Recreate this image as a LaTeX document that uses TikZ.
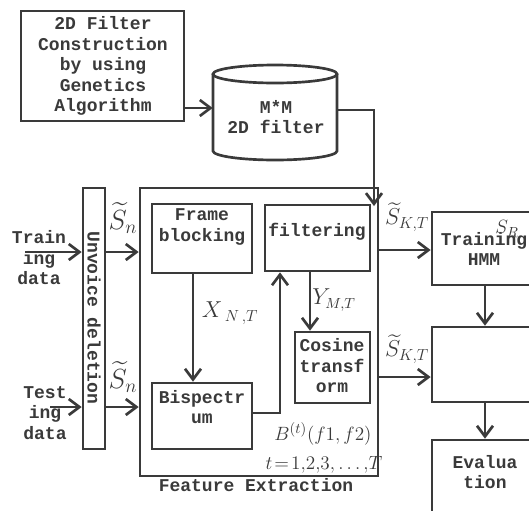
\documentclass[tikz,border=0pt]{standalone}
\usepackage{fontspec}
\usepackage{amsmath}
\usetikzlibrary{arrows.meta, fit}
\newfontfamily\boxfont{Liberation Mono}
\definecolor{ink}{HTML}{3A3A3A}

\begin{document}
\begin{tikzpicture}[x=0.75pt, y=-0.75pt,
  >={Straight Barb[length=8pt, width=12pt]},
  blk/.style={draw=ink, line width=2pt, inner sep=0pt},
  lbl/.style={text=ink, font=\boxfont\bfseries\fontsize{13.5}{15.4}\selectfont, align=center, inner sep=0pt},
  mth/.style={text=ink, font=\fontsize{16}{18}\selectfont, inner sep=0pt},
  arr/.style={draw=ink, line width=2pt, ->}]
  \useasboundingbox (0,0) rectangle (529,511);
  \fill[white] (0,0) rectangle (529,511);
  \clip (0,0) rectangle (529,511);

  % GA filter design and the stored filter
  \node[blk, fit={(21,11) (184,121)}] (flt) {};
  \node[lbl] (flttxt) at (103,66) {2D Filter\\Construction\\by using\\Genetics\\Algorithm};
  \draw[draw=ink, line width=2pt, fill=white] (213,74) -- (213,151)
    arc[start angle=180, end angle=360, x radius=46.5pt, y radius=6.75pt] -- (337,74);
  \draw[draw=ink, line width=2pt] (275,74) ellipse [x radius=46.5pt, y radius=6.75pt];
  \node[inner sep=0pt, fit={(213,65) (337,160)}] (db) {};
  \node[lbl] (dbtxt) at (276,117) {M*M\\2D filter};

  % pre-processing
  \node[blk, fit={(83,188) (105,449)}] (unv) {};
  \node[lbl, rotate=-90] (unvtxt) at (94,318) {Unvoice deletion};
  \node[lbl] (trntxt) at (39,258) {Train\\ing\\data};
  \node[lbl] (tsttxt) at (45,413) {Test\\ing\\data};

  % feature extraction
  \node[blk, fit={(140,188) (378,476)}] (fe) {};
  \node[lbl] (fetxt) at (256,485) {Feature Extraction};
  \node[blk, fit={(152,204) (252,273)}] (frame) {};
  \node[lbl] (frametxt) at (202,227) {Frame\\blocking};
  \node[blk, fit={(265,205) (370,271)}] (filt) {};
  \node[lbl] (filttxt) at (317,232) {filtering};
  \node[blk, fit={(152,383) (252,449)}] (bisp) {};
  \node[lbl] (bisptxt) at (202,407) {Bispectr\\um};
  \node[blk, fit={(295,332) (370,403)}] (cos) {};
  \node[lbl] (costxt) at (332,366) {Cosine\\transf\\orm};

  % HMM side
  \node[blk, fit={(432,212) (540,285)}] (train) {};
  \node[lbl] (traintxt) at (484,249) {Training\\HMM};
  \node[mth, font=\fontsize{15}{17}\selectfont] (srtxt) at (507,229) {$S_{R}$};
  \node[blk, fit={(432,327) (540,402)}] (recog) {};
  \node[blk, fit={(432,440) (540,530)}] (eval) {};
  \node[lbl] (evaltxt) at (485,472) {Evalua\\tion};

  % connector ends and columns
  \coordinate (trn) at (25,252);
  \coordinate (tst) at (50,407);
  \coordinate (fein) at (374,206);
  \coordinate (c1) at (193,0);
  \coordinate (c2) at (280,413);
  \coordinate (c3) at (310,0);
  \coordinate (c4) at (485,0);
  \coordinate (r1) at (0,377);

  \draw[arr] (flt.east |- 0,108) -- (db.west |- 0,108);
  \draw[arr] (db.east |- 0,110) -| (fein);
  \draw[arr] (trn) -- (trn -| unv.west);
  \draw[arr] (tst) -- (tst -| unv.west);
  \draw[arr] (unv.east |- trn) -- (fe.west |- trn);
  \draw[arr] (unv.east |- tst) -- (fe.west |- tst);
  \draw[arr] (frame.south -| c1) -- (bisp.north -| c1);
  \draw[arr] (bisp.east |- c2) -| (filt.south -| c2);
  \draw[arr] (filt.south -| c3) -- (cos.north -| c3);
  \draw[arr] (fe.east |- 0,250) -- (train.west |- 0,250);
  \draw[arr] (fe.east |- r1) -- (recog.west |- r1);
  \draw[arr] (train.south -| c4) -- (recog.north -| c4);
  \draw[arr] (recog.south -| c4) -- (eval.north -| c4);

  % signal labels
  \node[mth, font=\fontsize{21}{23}\selectfont] (sn1) at (123,218) {$\widetilde{S}_n$};
  \node[mth, font=\fontsize{21}{23}\selectfont] (sn2) at (123,377) {$\widetilde{S}_n$};
  \node[mth, font=\fontsize{17}{19}\selectfont] (skt1) at (407,217) {$\widetilde{S}_{K,T}$};
  \node[mth, font=\fontsize{17}{19}\selectfont] (skt2) at (407,349) {$\widetilde{S}_{K,T}$};
  \node[mth, font=\fontsize{18}{20}\selectfont] (xnt) at (230,313) {$X_{\;N\,,T}$};
  \node[mth, font=\fontsize{16}{18}\selectfont] (ymt) at (334,300) {$Y_{M,T}$};
  \node[mth, font=\fontsize{15}{17}\selectfont] (bt) at (323,434) {$B^{(t)}(f1,f2)$};
  \node[mth, font=\fontsize{15}{17}\selectfont] (tr) at (324,465) {$t\!=\!1{,}2{,}3{,}\ldots{,}T$};
\end{tikzpicture}
\end{document}
